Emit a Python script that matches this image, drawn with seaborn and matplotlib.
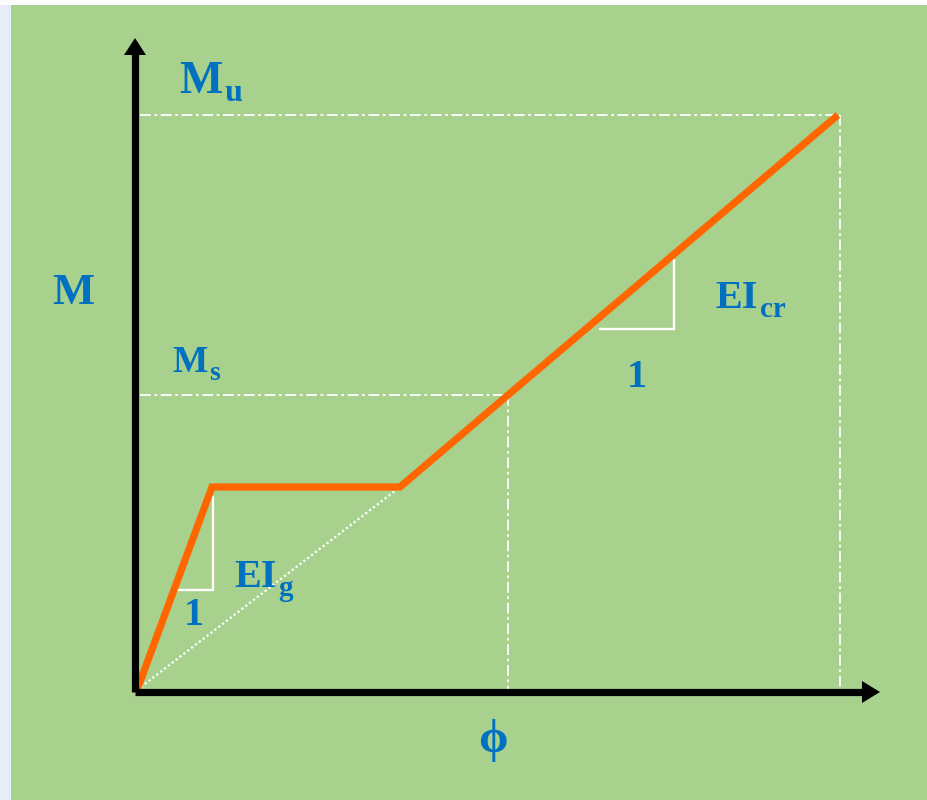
import matplotlib
matplotlib.use("Agg")
import matplotlib.pyplot as plt
from matplotlib.patches import Rectangle, Polygon
import numpy as np
import pandas as pd
import seaborn as sns

# Moment-curvature idealisation (arbitrary units)
phi_pts = [0.0, 0.75, 2.63, 3.71, 7.01]
m_pts = [0.0, 2.03, 2.03, 2.95, 5.75]

# Secant from origin to the end of the cracking plateau
secant_phi = [0.0, 2.63]
secant_m = [0.0, 2.03]

# Reference levels
phi_s, m_s = 3.71, 2.95
phi_u, m_u = 7.03, 5.75

# Slope triangles: (corner phi, top m, left phi, bottom m)
tri_g = (0.76, 1.93, 0.39, 1.00)
tri_cr = (5.37, 4.30, 4.63, 3.61)

GREEN = "#A9D18E"
BLUE = "#0070C0"
ORANGE = "#FF6600"

sns.set_theme(style="white")
plt.rcParams["font.family"] = ["Liberation Serif", "DejaVu Serif"]

fig = plt.figure(figsize=(9.27, 8.0), dpi=100)
fig.patch.set_facecolor(GREEN)
fig.patches.append(Rectangle((0, 0), 11 / 927, 1, transform=fig.transFigure,
                             facecolor="#E4EDF8", edgecolor="none", zorder=0))
fig.patches.append(Rectangle((0, 1 - 5 / 800), 1, 5 / 800, transform=fig.transFigure,
                             facecolor="#FCFCFC", edgecolor="none", zorder=0))

ax = fig.add_axes([0, 0, 1, 1])
ax.set_facecolor("none")
ax.set_xlim(-1.37, 7.90)
ax.set_ylim(-1.10, 6.90)
ax.axis("off")

# Dash-dot reference lines
dd = dict(color="white", lw=1.3, ls=(0, (6, 2, 1.5, 2)), zorder=2)
ax.plot([0.03, phi_s], [m_s, m_s], **dd)
ax.plot([phi_s, phi_s], [m_s, -0.02], **dd)
ax.plot([0.03, phi_u], [m_u, m_u], **dd)
ax.plot([phi_u, phi_u], [m_u, -0.02], **dd)

# Dotted secant
ax.plot(secant_phi, secant_m, color="white", lw=1.6, ls=(0, (1, 1.2)), zorder=2)

# Slope triangles
for cx, top, left, bot in (tri_g, tri_cr):
    ax.plot([cx, cx, left], [top, bot, bot], color="white", lw=1.7, zorder=2,
            solid_joinstyle="miter")

# Main curve
df = pd.DataFrame({"phi": phi_pts, "M": m_pts})
sns.lineplot(data=df, x="phi", y="M", sort=False, ax=ax, color=ORANGE,
             lw=5.2, zorder=3, solid_joinstyle="miter", solid_capstyle="butt")

# Axes with arrow heads
ax.plot([-0.02, -0.02], [-0.02, 6.40], color="black", lw=5.2, zorder=4,
        solid_capstyle="butt")
ax.add_patch(Polygon([[-0.13, 6.35], [0.09, 6.35], [-0.02, 6.52]], closed=True,
                     facecolor="black", edgecolor="none", zorder=4))
ax.plot([-0.02, 7.28], [-0.02, -0.02], color="black", lw=5.2, zorder=4,
        solid_capstyle="butt")
ax.add_patch(Polygon([[7.25, 0.09], [7.25, -0.13], [7.43, -0.02]], closed=True,
                     facecolor="black", edgecolor="none", zorder=4))

# Labels
tk = dict(color=BLUE, fontweight="bold", zorder=5)
ax.text(-0.64, 3.97, "M", fontsize=32, ha="center", va="center", **tk)
ax.text(0.42, 5.97, "M", fontsize=33, ha="left", va="baseline", **tk)
ax.text(0.87, 5.89, "u", fontsize=23, ha="left", va="baseline", **tk)
ax.text(0.35, 3.18, "M", fontsize=27, ha="left", va="baseline", **tk)
ax.text(0.72, 3.10, "s", fontsize=20, ha="left", va="baseline", **tk)
ax.text(5.78, 3.82, "EI", fontsize=29, ha="left", va="baseline", **tk)
ax.text(6.23, 3.73, "cr", fontsize=21, ha="left", va="baseline", **tk)
ax.text(5.00, 3.03, "1", fontsize=29, ha="center", va="baseline", **tk)
ax.text(0.97, 1.03, "EI", fontsize=29, ha="left", va="baseline", **tk)
ax.text(1.41, 0.94, "g", fontsize=21, ha="left", va="baseline", **tk)
ax.text(0.57, 0.65, "1", fontsize=29, ha="center", va="baseline", **tk)
ax.text(3.56, -0.50, "\u03d5", fontsize=34, ha="center", va="center", **tk)

fig.savefig("out.png", dpi=100, facecolor=fig.get_facecolor())
